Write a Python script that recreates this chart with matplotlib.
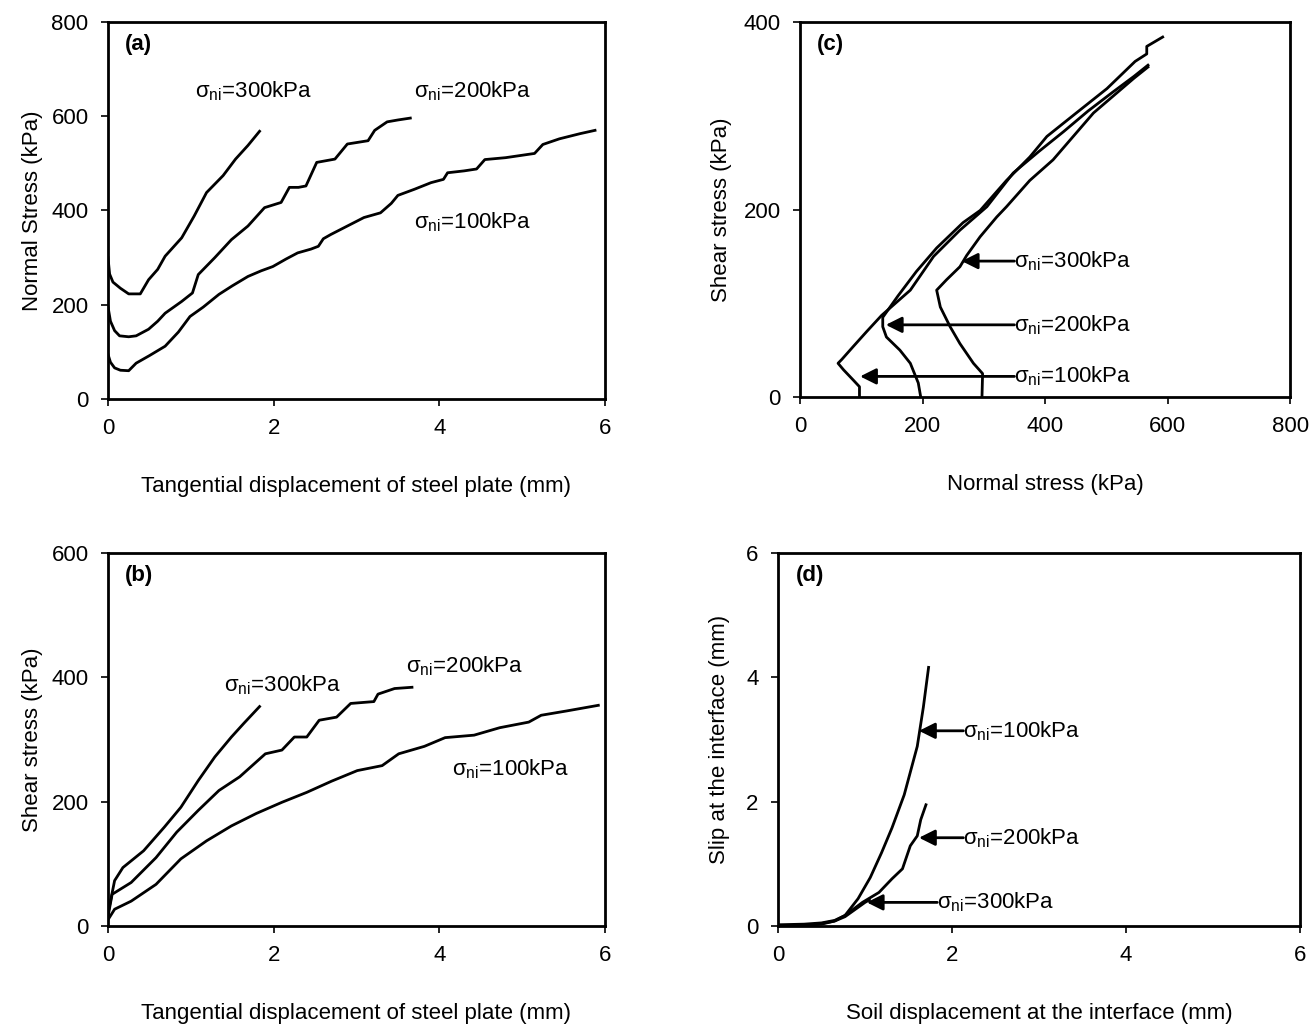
import matplotlib
matplotlib.use("Agg")
import matplotlib.pyplot as plt

plt.rcParams['font.family'] = ['Liberation Sans', 'DejaVu Sans']
plt.rcParams['mathtext.default'] = 'regular'
plt.rcParams['font.size'] = 16

# (a) tangential displacement (mm) vs normal stress (kPa)
a_x100 = [0, 0.03, 0.08, 0.15, 0.25, 0.34, 0.5, 0.69, 0.85, 0.99, 1.15, 1.34, 1.5, 1.69, 1.85, 1.99, 2.15, 2.29, 2.45, 2.54, 2.6, 2.69,
          2.89, 3.09, 3.29, 3.42, 3.5, 3.7, 3.9, 4.05, 4.1, 4.3, 4.45, 4.55, 4.8, 5.15, 5.25, 5.45, 5.7, 5.88]
a_y100 = [95, 78, 66, 61, 60, 76, 92, 112, 142, 175, 195, 222, 240, 260, 272, 281, 297, 310, 318, 324, 340, 349,
          367, 385, 395, 415, 432, 445, 459, 466, 480, 484, 488, 508, 512, 521, 540, 552, 563, 570]
a_x200 = [0, 0.03, 0.08, 0.14, 0.25, 0.34, 0.49, 0.6, 0.69, 0.89, 1.02, 1.09, 1.29, 1.49, 1.69, 1.89, 2.09, 2.19, 2.3, 2.39, 2.52,
          2.74, 2.89, 3.14, 3.22, 3.37, 3.5, 3.65]
a_y200 = [196, 165, 145, 134, 132, 134, 148, 165, 182, 207, 225, 264, 300, 338, 367, 406, 417, 449, 449, 452, 502,
          509, 541, 548, 570, 588, 592, 596]
a_x300 = [0, 0.02, 0.06, 0.15, 0.25, 0.39, 0.49, 0.6, 0.69, 0.89, 1.04, 1.19, 1.39, 1.54, 1.69, 1.83]
a_y300 = [300, 265, 248, 235, 223, 223, 253, 275, 303, 342, 388, 438, 474, 509, 538, 568]

# (b) tangential displacement (mm) vs shear stress (kPa)
b_x100 = [0, 0.08, 0.28, 0.58, 0.88, 1.19, 1.49, 1.79, 2.1, 2.4, 2.7, 3.01, 3.31, 3.51, 3.82, 4.07, 4.42, 4.73, 5.08, 5.23,
          5.54, 5.92]
b_y100 = [10, 27, 40, 67, 108, 137, 161, 181, 199, 215, 233, 250, 258, 277, 289, 303, 307, 319, 328, 339,
          346, 355]
b_x200 = [0, 0.05, 0.28, 0.58, 0.83, 1.09, 1.34, 1.59, 1.9, 2.1, 2.25, 2.4, 2.55, 2.76, 2.93, 3.21, 3.26, 3.46, 3.67]
b_y200 = [15, 51, 70, 110, 151, 186, 218, 240, 277, 283, 304, 304, 331, 336, 358, 361, 373, 382, 384]
b_x300 = [0, 0.08, 0.18, 0.43, 0.68, 0.88, 1.09, 1.29, 1.49, 1.64, 1.83]
b_y300 = [20, 73, 94, 121, 159, 191, 234, 272, 304, 326, 353]

# (c) normal stress vs shear stress (kPa)
c_x100 = [97, 97, 87, 71, 62, 68, 87, 109, 133, 180, 218, 261, 305, 348, 390, 430, 470, 510, 545, 568]
c_y100 = [0, 11, 18, 29, 36, 40, 54, 70, 87, 114, 150, 178, 203, 239, 262, 283, 305, 325, 342, 354]
c_x200 = [197, 193, 180, 163, 141, 135, 135, 160, 190, 223, 266, 294, 337, 375, 403, 449, 501, 547, 566, 566, 592]
c_y200 = [0, 15, 36, 50, 64, 75, 85, 108, 134, 159, 186, 199, 231, 256, 278, 302, 329, 358, 366, 374, 384]
c_x300 = [297, 298, 283, 261, 245, 229, 223, 239, 261, 272, 294, 321, 337, 375, 413, 479, 520, 545, 568]
c_y300 = [0, 25, 36, 57, 75, 96, 114, 125, 139, 151, 171, 192, 203, 231, 253, 303, 326, 340, 352]

# (d) soil displacement vs slip at the interface (mm)
d_x100 = [0, 0.3, 0.5, 0.65, 0.77, 0.92, 1.06, 1.19, 1.31, 1.45, 1.6, 1.67, 1.73]
d_y100 = [0.02, 0.03, 0.05, 0.09, 0.17, 0.44, 0.78, 1.18, 1.58, 2.11, 2.89, 3.52, 4.16]
d_x200 = [0, 0.3, 0.5, 0.65, 0.77, 0.97, 1.16, 1.31, 1.43, 1.52, 1.6, 1.64, 1.7]
d_y200 = [0.0, 0.01, 0.03, 0.08, 0.17, 0.38, 0.54, 0.76, 0.92, 1.29, 1.45, 1.71, 1.95]
d_x300 = [0, 0.3, 0.5, 0.65, 0.77, 0.9, 1.0, 1.05]
d_y300 = [0.0, 0.01, 0.04, 0.08, 0.15, 0.28, 0.38, 0.42]

labels = ['σ$_{ni}$=100kPa', 'σ$_{ni}$=200kPa', 'σ$_{ni}$=300kPa']

fig = plt.figure(figsize=(13.12, 10.35), dpi=100)
ax_a = fig.add_axes([0.0823, 0.6145, 0.3788, 0.3643])
ax_c = fig.add_axes([0.6098, 0.6164, 0.3735, 0.3623])
ax_b = fig.add_axes([0.0823, 0.1053, 0.3788, 0.3604])
ax_d = fig.add_axes([0.593, 0.1053, 0.398, 0.3604])

LW = 2.0
FS = 16
for ax in [ax_a, ax_b, ax_c, ax_d]:
    for s in ax.spines.values():
        s.set_linewidth(2.0)
    ax.tick_params(direction='out', length=5, width=1.2, labelsize=16, pad=9)

# (a)
for xs, ys in [(a_x100, a_y100), (a_x200, a_y200), (a_x300, a_y300)]:
    ax_a.plot(xs, ys, color='black', lw=LW)
ax_a.set_xlim(0, 6)
ax_a.set_ylim(0, 800)
ax_a.set_xticks([0, 2, 4, 6])
ax_a.set_yticks([0, 200, 400, 600, 800])
ax_a.set_xlabel('Tangential displacement of steel plate (mm)', labelpad=26)
ax_a.set_ylabel('Normal Stress (kPa)', labelpad=6)
ax_a.text(0.035, 0.925, '(a)', transform=ax_a.transAxes, fontweight='bold', fontsize=FS)
ax_a.text(1.05, 640, labels[2], fontsize=FS)
ax_a.text(3.7, 640, labels[1], fontsize=FS)
ax_a.text(3.7, 362, labels[0], fontsize=FS)

# (b)
for xs, ys in [(b_x100, b_y100), (b_x200, b_y200), (b_x300, b_y300)]:
    ax_b.plot(xs, ys, color='black', lw=LW)
ax_b.set_xlim(0, 6)
ax_b.set_ylim(0, 600)
ax_b.set_xticks([0, 2, 4, 6])
ax_b.set_yticks([0, 200, 400, 600])
ax_b.set_xlabel('Tangential displacement of steel plate (mm)', labelpad=26)
ax_b.set_ylabel('Shear stress (kPa)', labelpad=6)
ax_b.text(0.035, 0.925, '(b)', transform=ax_b.transAxes, fontweight='bold', fontsize=FS)
ax_b.text(1.4, 378, labels[2], fontsize=FS)
ax_b.text(3.6, 408, labels[1], fontsize=FS)
ax_b.text(4.15, 243, labels[0], fontsize=FS)

# (c)
for xs, ys in [(c_x100, c_y100), (c_x200, c_y200), (c_x300, c_y300)]:
    ax_c.plot(xs, ys, color='black', lw=LW)
ax_c.set_xlim(0, 800)
ax_c.set_ylim(0, 400)
ax_c.set_xticks([0, 200, 400, 600, 800])
ax_c.set_yticks([0, 200, 400])
ax_c.set_xlabel('Normal stress (kPa)', labelpad=26)
ax_c.set_ylabel('Shear stress (kPa)', labelpad=8)
ax_c.text(0.035, 0.925, '(c)', transform=ax_c.transAxes, fontweight='bold', fontsize=FS)
arrow = dict(arrowstyle='-|>', color='black', lw=2.0, mutation_scale=24, shrinkA=0, shrinkB=0)
for lab, y, xh in [(labels[2], 145, 264), (labels[1], 77, 140), (labels[0], 22, 98)]:
    ax_c.annotate('', xy=(xh, y), xytext=(350, y), arrowprops=arrow)
    ax_c.text(350, y, lab, fontsize=FS, va='center')

# (d)
for xs, ys in [(d_x100, d_y100), (d_x200, d_y200), (d_x300, d_y300)]:
    ax_d.plot(xs, ys, color='black', lw=LW)
ax_d.set_xlim(0, 6)
ax_d.set_ylim(0, 6)
ax_d.set_xticks([0, 2, 4, 6])
ax_d.set_yticks([0, 2, 4, 6])
ax_d.set_xlabel('Soil displacement at the interface (mm)', labelpad=26)
ax_d.set_ylabel('Slip at the interface (mm)', labelpad=12)
ax_d.text(0.035, 0.925, '(d)', transform=ax_d.transAxes, fontweight='bold', fontsize=FS)
for lab, y, xh, xt in [(labels[0], 3.14, 1.62, 2.13), (labels[1], 1.42, 1.62, 2.13), (labels[2], 0.38, 1.02, 1.83)]:
    ax_d.annotate('', xy=(xh, y), xytext=(xt, y), arrowprops=arrow)
    ax_d.text(xt, y, lab, fontsize=FS, va='center')

fig.savefig('out.png', dpi=100)
